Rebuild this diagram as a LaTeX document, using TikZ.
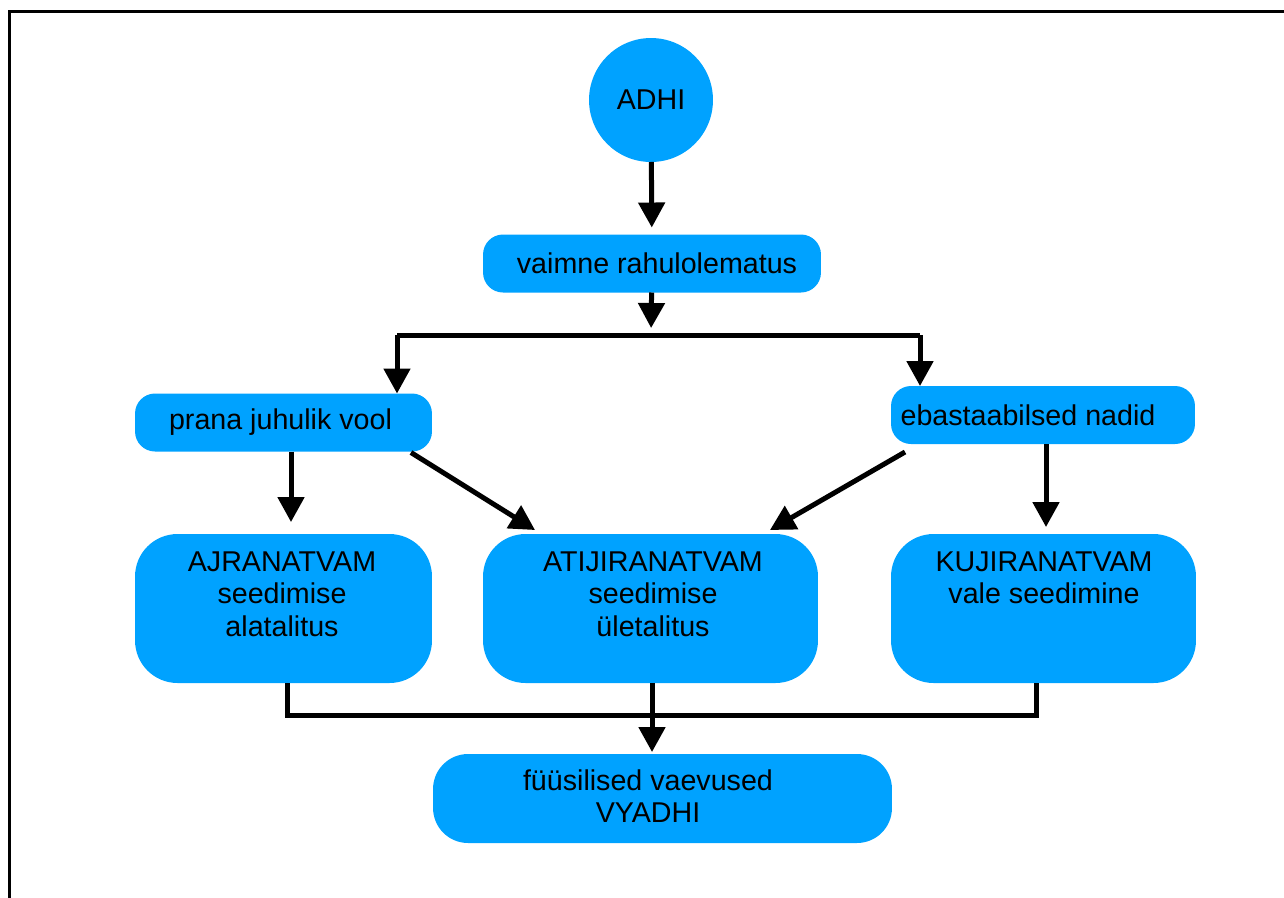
\documentclass[tikz,border=0pt]{standalone}
\usepackage{fontspec}
\setmainfont{Liberation Sans}
\usepackage{tikz}
\usetikzlibrary{arrows.meta,calc}
\definecolor{boxblue}{RGB}{0,162,255}

\begin{document}
\begin{tikzpicture}[x=0.02cm, y=-0.02cm,
    box/.style={fill=boxblue, rounded corners=0.4cm, inner sep=0pt, outer sep=0pt,
      minimum height=1.16cm, font=\fontsize{16.3}{18.5}\selectfont},
    bigbox/.style={fill=boxblue, rounded corners=0.85cm, inner sep=0pt, outer sep=0pt,
      minimum height=2.98cm},
    txt/.style={align=center, inner sep=0pt, font=\fontsize{16.3}{18.5}\selectfont},
    arr/.style={-{Triangle[length=0.5cm,width=0.52cm]}},
    line width=0.1cm]
    \useasboundingbox (0,0) rectangle (1284,897);
    \draw[line width=0.06cm] (9.5,950) |- (1320,11);
    % nodes
    \node[circle, fill=boxblue, minimum size=2.48cm, inner sep=0pt, outer sep=0pt,
      font=\fontsize{16.3}{18.5}\selectfont] (adhi) at (651,100) {ADHI};
    \node[box, minimum width=6.76cm] (vaim) at (652,263.5) {\kern0.2cm vaimne rahulolematus};
    \node[box, minimum width=5.94cm] (prana) at (283.5,422.5) {prana juhulik vool\kern0.12cm};
    \node[box, minimum width=6.08cm] (ebast) at (1043,415) {ebastaabilsed nadid\kern0.6cm};
    \node[bigbox, minimum width=5.94cm] (ajra) at (283.5,608.5) {};
    \node[bigbox, minimum width=6.7cm] (atij) at (650.5,608.5) {};
    \node[bigbox, minimum width=6.1cm] (kuji) at (1043.5,608.5) {};
    \node[txt] (ajratxt) at (282,594) {AJRANATVAM\\seedimise\\alatalitus};
    \node[txt] (atijtxt) at (653,594) {ATIJIRANATVAM\\seedimise\\\"uletalitus};
    \node[txt] (kujitxt) at (1044,578) {KUJIRANATVAM\\vale seedimine};
    \node[box, rounded corners=0.7cm, minimum width=9.18cm, minimum height=1.78cm] (fuus) at (662.5,798.5) {};
    \node[txt] (fuustxt) at (648,796) {f\"u\"usilised vaevused\\VYADHI};
    % connectors
    \coordinate (split) at (651,335);
    \coordinate (splitL) at (397,335);
    \coordinate (splitR) at (920,335);
    \coordinate (merge) at (652,715);
    \draw[arr, shorten >=0.14cm] (adhi) -- (vaim);
    \draw[arr, shorten >=0.14cm] (vaim) -- (split);
    \draw (splitL) -- (splitR);
    \draw[arr] (splitL) -- (splitL |- prana.north);
    \draw[arr] (splitR) -- (splitR |- ebast.north);
    \draw[arr, shorten >=0.24cm] (prana.south -| 291,0) -- (ajra.north -| 291,0);
    \draw[arr] ($(prana.south east)+(-21,1)$) -- ($(atij.north west)+(52,-4)$);
    \draw[arr] ($(ebast.south west)+(14,8)$) -- ($(atij.north east)+(-48,-4)$);
    \draw[arr, shorten >=0.14cm] (ebast.south -| 1046,0) -- (kuji.north -| 1046,0);
    \draw (ajra.south -| 287,0) |- (merge) -| (kuji.south -| 1036,0);
    \draw[arr, shorten >=0.04cm] (atij.south -| 652,0) -- (fuus.north -| 652,0);
\end{tikzpicture}
\end{document}
